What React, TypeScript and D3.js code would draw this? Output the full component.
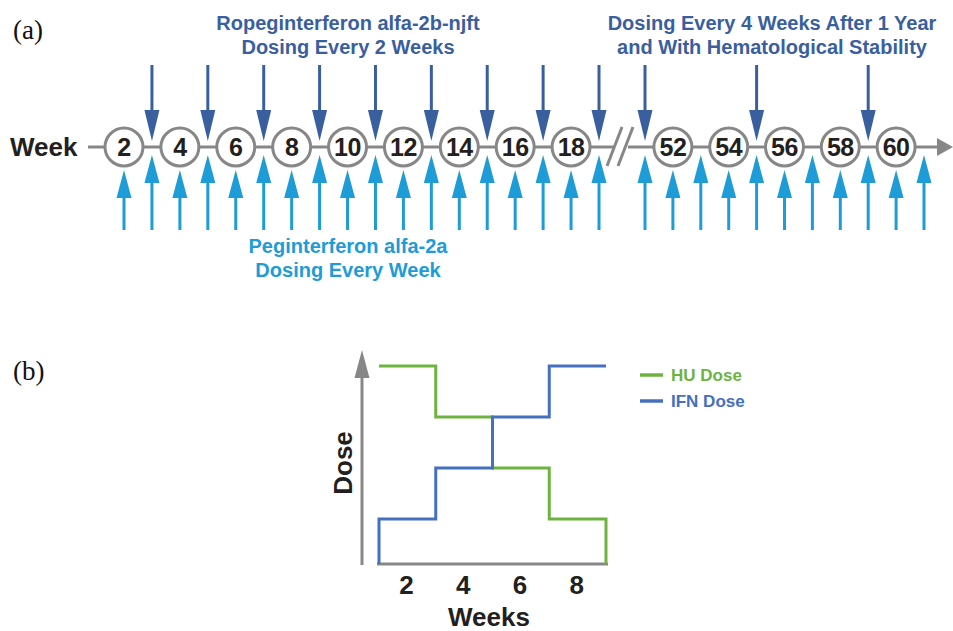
import * as d3 from 'd3';

// weeks on the timeline (a)
const circleWeeks = [2, 4, 6, 8, 10, 12, 14, 16, 18, 52, 54, 56, 58, 60];
const ropegWeeks = [3, 5, 7, 9, 11, 13, 15, 17, 19, 51, 55, 59];
const pegWeeks = [2, 3, 4, 5, 6, 7, 8, 9, 10, 11, 12, 13, 14, 15, 16, 17, 18, 19, 51, 52, 53, 54, 55, 56, 57, 58, 59, 60, 61];
const ropegTitle = ['Ropeginterferon alfa-2b-njft', 'Dosing Every 2 Weeks'];
const ropegLateTitle = ['Dosing Every 4 Weeks After 1 Year', 'and With Hematological Stability'];
const pegTitle = ['Peginterferon alfa-2a', 'Dosing Every Week'];

// dose steps (b): [week, dose level]
const huDose: [number, number][] = [[1, 4], [3, 4], [3, 3], [5, 3], [5, 2], [7, 2], [7, 1], [9, 1]];
const ifnDose: [number, number][] = [[1, 1], [3, 1], [3, 2], [5, 2], [5, 3], [7, 3], [7, 4], [9, 4]];
const weekTicks = [2, 4, 6, 8];
const legendItems = ['HU Dose', 'IFN Dose'];

const FONT = '"Liberation Sans", Arial, sans-serif';
const SERIF = '"Liberation Serif", "Times New Roman", serif';
const GRAY = '#878787';
const DARK = '#3a5f9e';
const LIGHT = '#1e9cd7';
const GREEN = '#6db33f';
const BLUE = '#4470bf';
const INK = '#231f20';

export default function App() {
  // split axis: before and after the break
  const xEarly = d3.scaleLinear().domain([2, 19]).range([124, 599]);
  const xLate = d3.scaleLinear().domain([51, 61]).range([645, 924]);
  const x = (w: number) => (w < 40 ? xEarly(w) : xLate(w));
  const lineY = 147;

  const xB = d3.scaleLinear().domain([1, 9]).range([379, 606]);
  const yB = d3.scaleLinear().domain([1, 4]).range([519, 366]);
  const baseY = 564;
  const stepLine = d3.line<[number, number]>().x(d => xB(d[0])).y(d => yB(d[1]));
  const huPath = stepLine(huDose) + `V${baseY}`;
  const ifnPath = `M${xB(ifnDose[0][0])},${baseY}` + stepLine(ifnDose)!.replace('M', 'L');

  return (
    <svg width={953} height={631} style={{ position: 'absolute', left: 0, top: 0 }} fontFamily={FONT}>
      <rect width={953} height={631} fill="#fff" />
      <text x={13} y={39} fontFamily={SERIF} fontSize={27} fill="#111">(a)</text>
      <text x={13} y={380} fontFamily={SERIF} fontSize={27} fill="#111">(b)</text>

      {/* titles */}
      {ropegTitle.map((t, i) => (
        <text key={t} x={348} y={30 + i * 24} textAnchor="middle" fontSize={20} fontWeight="bold" fill={DARK}>{t}</text>
      ))}
      {ropegLateTitle.map((t, i) => (
        <text key={t} x={772} y={30 + i * 24} textAnchor="middle" fontSize={20} fontWeight="bold" fill={DARK}>{t}</text>
      ))}
      {pegTitle.map((t, i) => (
        <text key={t} x={348} y={253 + i * 24} textAnchor="middle" fontSize={20} fontWeight="bold" fill={LIGHT}>{t}</text>
      ))}

      {/* timeline */}
      <text x={10} y={156} fontSize={26} fontWeight="bold" fill={INK}>Week</text>
      <line x1={88} x2={614} y1={lineY} y2={lineY} stroke={GRAY} strokeWidth={3} />
      <line x1={628} x2={940} y1={lineY} y2={lineY} stroke={GRAY} strokeWidth={3} />
      <polygon points={`937,138 953,${lineY} 937,156`} fill={GRAY} />
      <line x1={607} y1={166} x2={622} y2={127} stroke={GRAY} strokeWidth={3} />
      <line x1={618} y1={166} x2={633} y2={127} stroke={GRAY} strokeWidth={3} />

      {circleWeeks.map(w => (
        <g key={w}>
          <circle cx={x(w)} cy={lineY} r={19} fill="#fff" stroke={GRAY} strokeWidth={3} />
          <text x={x(w)} y={lineY + 9} textAnchor="middle" fontSize={25} fontWeight="bold" fill={INK} letterSpacing={-0.5}>{w}</text>
        </g>
      ))}

      {ropegWeeks.map(w => (
        <g key={w}>
          <line x1={x(w)} x2={x(w)} y1={65} y2={112} stroke={DARK} strokeWidth={3} />
          <polygon points={`${x(w) - 7.5},110 ${x(w) + 7.5},110 ${x(w)},141`} fill={DARK} />
        </g>
      ))}

      {pegWeeks.map(w => {
        const tip = circleWeeks.includes(w) ? 170 : 155;
        return (
          <g key={w}>
            <line x1={x(w)} x2={x(w)} y1={tip + 25} y2={230} stroke={LIGHT} strokeWidth={3} />
            <polygon points={`${x(w) - 7.5},${tip + 28} ${x(w) + 7.5},${tip + 28} ${x(w)},${tip}`} fill={LIGHT} />
          </g>
        );
      })}

      {/* dose chart */}
      <line x1={362} x2={362} y1={565} y2={376} stroke={GRAY} strokeWidth={3} />
      <polygon points={`354.5,378 369.5,378 362,350`} fill={GRAY} />
      <line x1={377} x2={608} y1={baseY} y2={baseY} stroke={GRAY} strokeWidth={3} />
      <path d={huPath} fill="none" stroke={GREEN} strokeWidth={3} />
      <path d={ifnPath} fill="none" stroke={BLUE} strokeWidth={3} />
      {weekTicks.map(w => (
        <text key={w} x={xB(w) - 1} y={594} textAnchor="middle" fontSize={26} fontWeight="bold" fill={INK}>{w}</text>
      ))}
      <text x={489} y={626} textAnchor="middle" fontSize={26} fontWeight="bold" fill={INK}>Weeks</text>
      <text transform="translate(352,463) rotate(-90)" textAnchor="middle" fontSize={26} fontWeight="bold" fill={INK}>Dose</text>

      {legendItems.map((t, i) => (
        <g key={t}>
          <line x1={640} x2={663} y1={375 + i * 26} y2={375 + i * 26} stroke={i === 0 ? GREEN : BLUE} strokeWidth={3.5} />
          <text x={671} y={381 + i * 26} fontSize={17} fontWeight="bold" fill={i === 0 ? GREEN : BLUE}>{t}</text>
        </g>
      ))}
    </svg>
  );
}
